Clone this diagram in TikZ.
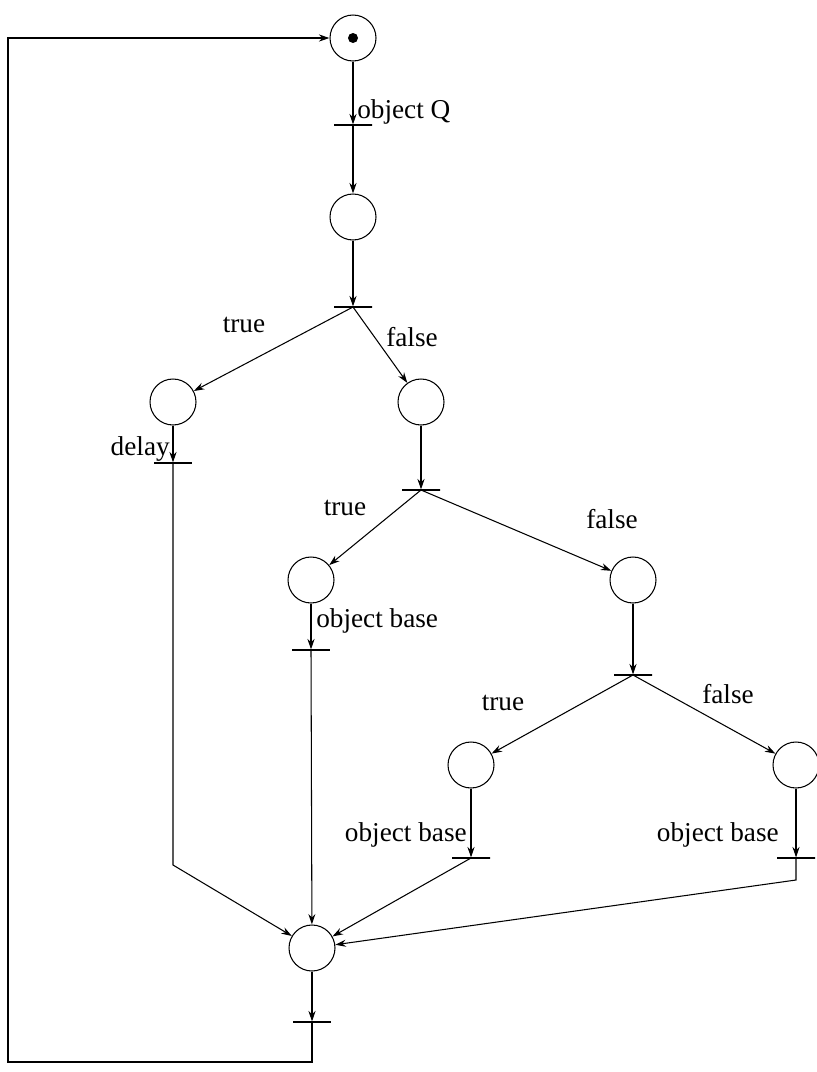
\documentclass[tikz,border=0pt]{standalone}
\usepackage{fontspec}
\setmainfont{Liberation Serif}
\usepackage{tikz}
\usetikzlibrary{arrows.meta}
\usetikzlibrary{positioning}

\newcommand\labfont{\fontsize{15.5}{18}\selectfont}

\begin{document}
\begin{tikzpicture}[
  x=0.02cm, y=-0.02cm,
  place/.style={circle, draw, minimum size=0.92cm, inner sep=0pt},
  trans/.style={draw, minimum width=0.76cm, minimum height=0pt, inner sep=0pt},
  lab/.style={inner sep=1pt, font=\labfont},
  every path/.style={->, line width=0.6pt},
]
\tikzset{>={Stealth[length=6pt, width=4pt]}}
\useasboundingbox (0,0) rectangle (817,1072);

% Places
\node[place] (p0) at (353, 38) {};
\node[place] (p1) at (353,217) {};
\node[place] (p2) at (173,402) {};
\node[place] (p3) at (421,402) {};
\node[place] (p4) at (311,580) {};
\node[place] (p5) at (633,580) {};
\node[place] (p6) at (471,765) {};
\node[place] (p7) at (796,765) {};
\node[place] (p8) at (312,948) {};

% Token
\node[circle, fill, inner sep=0pt, minimum size=0.2cm] (tok) at (p0) {};

% Transitions
\node[trans] (t0) at (353,125) {};
\node[trans] (t1) at (353,307) {};
\node[trans] (t2) at (173,463) {};
\node[trans] (t3) at (421,490) {};
\node[trans] (t4) at (311,650) {};
\node[trans] (t5) at (633,675) {};
\node[trans] (t6) at (471,858) {};
\node[trans] (t7) at (796,858) {};
\node[trans] (t8) at (312,1022) {};

% Labels
\node[lab, anchor=west] (l0) at (355,112) {object Q};
\node[lab] (l1) at (244,325) {true};
\node[lab] (l2) at (412,337) {false};
\node[lab, anchor=east] (l3) at (172,449) {delay};
\node[lab] (l4) at (345,508) {true};
\node[lab] (l5) at (612,519) {false};
\node[lab, anchor=west] (l6) at (314,621) {object base};
\node[lab] (l7) at (503,703) {true};
\node[lab] (l8) at (728,694) {false};
\node[lab, anchor=east] (l9) at (469,835) {object base};
\node[lab, anchor=east] (l10) at (781,835) {object base};

% Bends and loop corners
\coordinate (b2) at (173,865);
\coordinate (b7) at (796,880);
\coordinate (lb) at (312,1062);
\coordinate (ll) at (8,1062);
\coordinate (lt) at (8,38);

% Main line
\draw (p0) -- (t0);
\draw (t0) -- (p1);
\draw (p1) -- (t1);

% First choice
\draw (t1) -- (p2);
\draw (t1) -- (p3);
\draw (p2) -- (t2);
\draw (p3) -- (t3);

% Second choice
\draw (t3) -- (p4);
\draw (t3) -- (p5);
\draw (p4) -- (t4);
\draw (p5) -- (t5);

% Third choice
\draw (t5) -- (p6);
\draw (t5) -- (p7);
\draw (p6) -- (t6);
\draw (p7) -- (t7);

% Joining
\draw (t2) -- (b2) -- (p8);
\draw (t4) -- (p8);
\draw (t6) -- (p8);
\draw (t7) -- (b7) -- (p8);
\draw (p8) -- (t8);

% Back to start
\draw (t8) -- (lb) -- (ll) -- (lt) -- (p0);

\end{tikzpicture}
\end{document}
